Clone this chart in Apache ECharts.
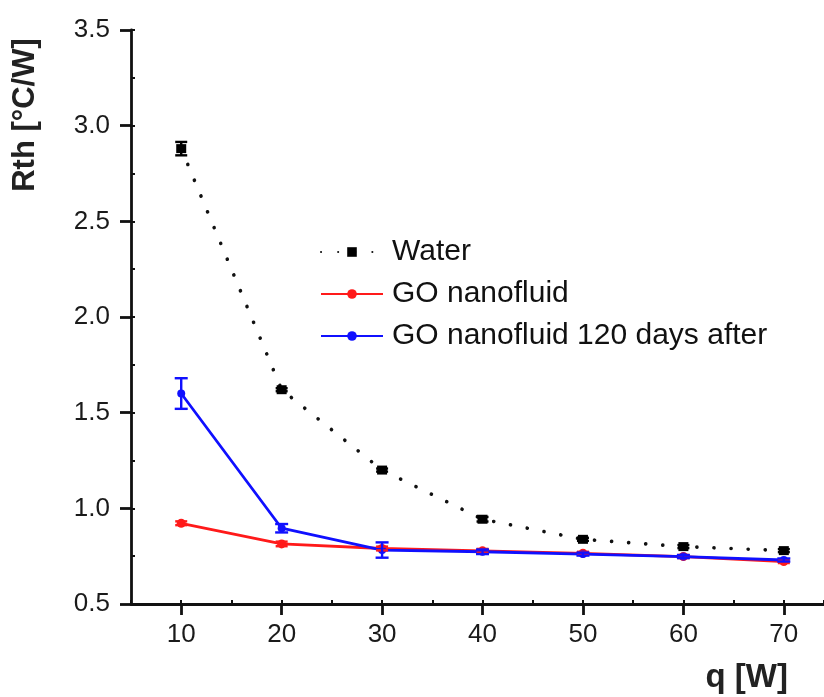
<!DOCTYPE html>
<html><head><meta charset="utf-8">
<script src="https://cdn.jsdelivr.net/npm/echarts@6/dist/echarts.min.js"></script>
<style>html,body{margin:0;padding:0;background:#fff}#c{width:824px;height:697px}</style>
</head><body><div id="c"></div>
<script>
const qValues = [10, 20, 30, 40, 50, 60, 70];
const waterRth = [2.88, 1.62, 1.20, 0.943, 0.838, 0.80, 0.779];
const waterErr = [0.035, 0.008, 0.008, 0.012, 0.008, 0.008, 0.008];
const goRth = [0.922, 0.814, 0.79, 0.778, 0.765, 0.748, 0.722];
const goErr = [0.01, 0.012, 0.01, 0.01, 0.008, 0.008, 0.008];
const go120Rth = [1.60, 0.896, 0.782, 0.773, 0.761, 0.748, 0.73];
const go120Err = [0.08, 0.022, 0.04, 0.012, 0.008, 0.008, 0.008];
const xTicks = [10, 20, 30, 40, 50, 60, 70];
const yTicks = [0.5, 1.0, 1.5, 2.0, 2.5, 3.0, 3.5];
const seriesNames = ['Water', 'GO nanofluid', 'GO nanofluid 120 days after'];

const FONT = '"Liberation Sans", Arial, sans-serif';
const chart = echarts.init(document.getElementById('c'));

function pts(vals){ return qValues.map((q,i)=>[q, vals[i]]); }
function errData(vals, errs){ return qValues.map((q,i)=>[q, vals[i]-errs[i], vals[i]+errs[i]]); }
function errSeries(vals, errs, color, capW){
  return {
    type: 'custom', xAxisIndex: 0, yAxisIndex: 0, z: 5, silent: true,
    data: errData(vals, errs),
    renderItem: function(params, api){
      const lo = api.coord([api.value(0), api.value(1)]);
      const hi = api.coord([api.value(0), api.value(2)]);
      const hw = capW;
      const st = {stroke: color, lineWidth: 2.4};
      return {type: 'group', children: [
        {type:'line', shape:{x1:lo[0], y1:lo[1], x2:hi[0], y2:hi[1]}, style: st},
        {type:'line', shape:{x1:lo[0]-hw, y1:lo[1], x2:lo[0]+hw, y2:lo[1]}, style: st},
        {type:'line', shape:{x1:hi[0]-hw, y1:hi[1], x2:hi[0]+hw, y2:hi[1]}, style: st}
      ]};
    }
  };
}

const axisLabelStyle = {color: '#1a1a1a', fontSize: 26, fontFamily: FONT};

chart.setOption({
  animation: false,
  backgroundColor: '#fff',
  grid: {left: 131, top: 30, right: 0, height: 574, containLabel: false},
  legend: {
    orient: 'vertical', left: 320, top: 237, padding: 0, itemWidth: 62, itemHeight: 12, itemGap: 12,
    data: seriesNames,
    textStyle: {color: '#111', fontSize: 30, lineHeight: 30, fontFamily: FONT, padding: [0,0,0,4]}
  },
  xAxis: [{
    type: 'value', min: 5, max: 74,
    name: 'q [W]', nameLocation: 'end',
    nameTextStyle: {fontSize: 33, fontWeight: 'bold', color: '#222', fontFamily: FONT, align: 'right', verticalAlign: 'top', padding: [57, 51, 0, 0]},
    axisLine: {lineStyle: {color: '#111', width: 2.8}},
    axisTick: {customValues: xTicks, length: 11, lineStyle: {color: '#111', width: 2.8}},
    axisLabel: {customValues: xTicks, margin: 18, ...axisLabelStyle},
    splitLine: {show: false}
  }, {
    type: 'value', min: 5, max: 74, interval: 5, position: 'bottom',
    axisLine: {show: false}, axisLabel: {show: false}, splitLine: {show: false},
    axisTick: {inside: true, length: 4, lineStyle: {color: '#111', width: 2}}
  }],
  yAxis: [{
    type: 'value', min: 0.5, max: 3.5, interval: 0.5,
    name: 'Rth [°C/W]', nameLocation: 'middle', nameGap: 90, nameRotate: 90,
    nameTextStyle: {fontSize: 31, fontWeight: 'bold', color: '#222', fontFamily: FONT, padding: [0,0,0,404]},
    axisLine: {show: true, lineStyle: {color: '#111', width: 2.8}},
    axisTick: {show: true, length: 11, lineStyle: {color: '#111', width: 2.8}},
    axisLabel: {margin: 21, formatter: v => v.toFixed(1), ...axisLabelStyle},
    splitLine: {show: false}
  }, {
    type: 'value', min: 0.5, max: 3.5, interval: 0.25, position: 'left',
    axisLine: {show: false}, axisLabel: {show: false}, splitLine: {show: false},
    axisTick: {show: true, inside: true, length: 4, lineStyle: {color: '#111', width: 2}}
  }],
  series: [
    {
      name: seriesNames[0], type: 'line', data: pts(waterRth), z: 3,
      symbol: 'rect', symbolSize: [10, 9],
      itemStyle: {color: '#000'},
      lineStyle: {color: '#111', width: 3.6, type: [0.1, 17], cap: 'round'}
    },
    {
      name: seriesNames[1], type: 'line', data: pts(goRth), z: 3,
      symbol: 'circle', symbolSize: 9,
      itemStyle: {color: '#ff1a1a'},
      lineStyle: {color: '#ff1a1a', width: 2.8}
    },
    {
      name: seriesNames[2], type: 'line', data: pts(go120Rth), z: 4,
      symbol: 'circle', symbolSize: 8,
      itemStyle: {color: '#1010ff'},
      lineStyle: {color: '#1010ff', width: 2.8}
    },
    errSeries(waterRth, waterErr, '#000', 6),
    errSeries(goRth, goErr, '#ff1a1a', 6),
    errSeries(go120Rth, go120Err, '#1010ff', 6.5)
  ]
});
</script></body></html>
